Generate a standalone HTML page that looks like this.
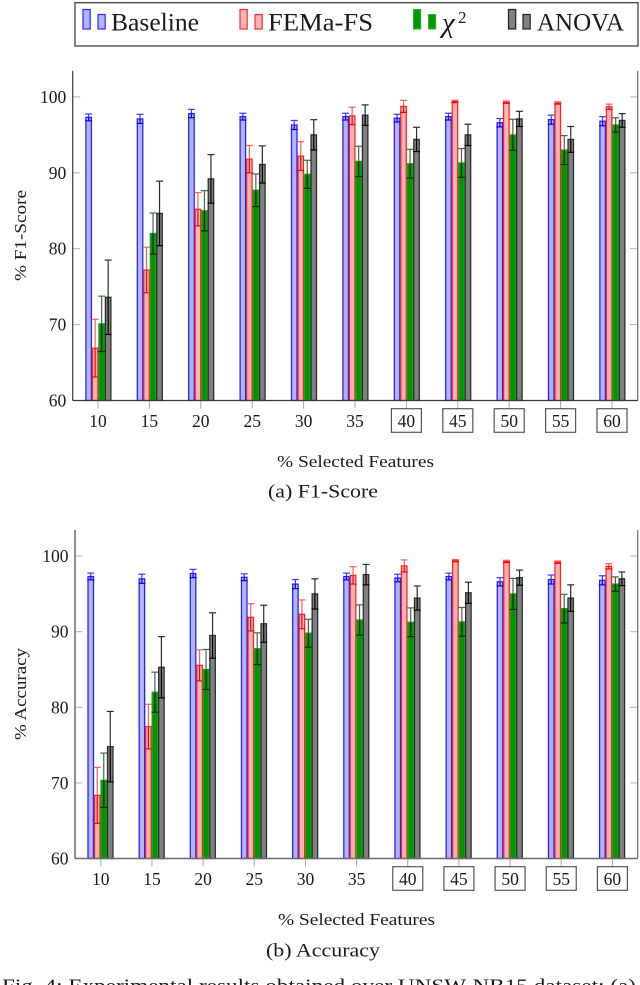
<!DOCTYPE html>
<html lang="en">
<head>
<meta charset="utf-8">
<title>F1-Score and Accuracy by selected features</title>
<style>
html,body{margin:0;padding:0;background:#fff;width:640px;height:985px;overflow:hidden}
svg{display:block;font-family:"Liberation Serif",serif;fill:#1a1a1a}
</style>
</head>
<body>
<svg id="figure" width="640" height="985" viewBox="0 0 640 985" xmlns="http://www.w3.org/2000/svg">
  <g>
    <rect x="75" y="2.7" width="563" height="43.3" fill="#fff" stroke="#444" stroke-width="1.3"/>
    <g>
      <rect x="83" y="9.5" width="7.2" height="19.5" fill="#b3b3ff" stroke="#2a2aff" stroke-width="1.2"/>
      <rect x="98" y="14.5" width="7.2" height="14.5" fill="#b3b3ff" stroke="#2a2aff" stroke-width="1.2"/>
      <text x="111" y="30.5" font-size="25.5" textLength="88" lengthAdjust="spacingAndGlyphs">Baseline</text>
    </g>
    <g>
      <rect x="240" y="9.5" width="7.2" height="19.5" fill="#ffb3b3" stroke="#ff2a2a" stroke-width="1.2"/>
      <rect x="255" y="14.5" width="7.2" height="14.5" fill="#ffb3b3" stroke="#ff2a2a" stroke-width="1.2"/>
      <text x="268" y="30.5" font-size="25.5" textLength="105" lengthAdjust="spacingAndGlyphs">FEMa-FS</text>
    </g>
    <g>
      <rect x="413.5" y="9.5" width="7.2" height="19.5" fill="#009900" stroke="#33b033" stroke-width="1"/>
      <rect x="428.5" y="14.5" width="7.2" height="14.5" fill="#009900" stroke="#33b033" stroke-width="1"/>
      <text x="442" y="32" font-size="29" font-style="italic">χ</text>
      <text x="458" y="23" font-size="17">2</text>
    </g>
    <g>
      <rect x="508.5" y="9.5" width="7.2" height="19.5" fill="#808080" stroke="#222" stroke-width="1.2"/>
      <rect x="523" y="14.5" width="7.2" height="14.5" fill="#808080" stroke="#222" stroke-width="1.2"/>
      <text x="537" y="30.5" font-size="25.5" textLength="87" lengthAdjust="spacingAndGlyphs">ANOVA</text>
    </g>
  </g>
  <g id="chart-f1"></g>
  <g id="chart-acc"></g>
  <text x="277" y="467" font-size="17" textLength="157" lengthAdjust="spacingAndGlyphs">% Selected Features</text>
  <text x="268" y="497.5" font-size="19" textLength="110" lengthAdjust="spacingAndGlyphs">(a) F1-Score</text>
  <text x="278" y="925" font-size="17" textLength="157" lengthAdjust="spacingAndGlyphs">% Selected Features</text>
  <text x="266" y="956.5" font-size="19" textLength="114" lengthAdjust="spacingAndGlyphs">(b) Accuracy</text>
  <text x="2" y="992" font-size="19" textLength="634" lengthAdjust="spacingAndGlyphs">Fig. 4: Experimental results obtained over UNSW-NB15 dataset: (a)</text>
</svg>
<script>
const categories = [10, 15, 20, 25, 30, 35, 40, 45, 50, 55, 60];
const boxedCategories = [40, 45, 50, 55, 60];
const yTicks = [60, 70, 80, 90, 100];

const f1Baseline = [97.3, 97.1, 97.8, 97.4, 96.3, 97.4, 97.2, 97.4, 96.6, 97.0, 96.8];
const f1BaselineErr = [0.45, 0.6, 0.55, 0.45, 0.6, 0.45, 0.5, 0.45, 0.55, 0.6, 0.6];
const f1Fema = [66.9, 77.2, 85.2, 91.8, 92.2, 97.5, 98.75, 99.4, 99.3, 99.2, 98.7];
const f1FemaErr = [3.8, 3.0, 2.2, 1.8, 1.9, 1.15, 0.8, 0.15, 0.15, 0.15, 0.35];
const f1Chi = [70.1, 82.0, 85.0, 87.7, 89.8, 91.5, 91.2, 91.3, 95.0, 93.0, 96.3];
const f1ChiErr = [3.65, 2.7, 2.65, 2.15, 1.85, 2.0, 1.9, 1.9, 2.05, 1.9, 0.95];
const f1Anova = [73.6, 84.65, 89.2, 91.1, 95.0, 97.6, 94.4, 95.0, 97.1, 94.4, 96.9];
const f1AnovaErr = [4.9, 4.25, 3.2, 2.45, 2.0, 1.35, 1.6, 1.4, 1.0, 1.7, 0.9];

const accBaseline = [97.3, 97.0, 97.7, 97.2, 96.3, 97.3, 97.1, 97.3, 96.6, 96.9, 96.8];
const accBaselineErr = [0.45, 0.6, 0.55, 0.45, 0.6, 0.45, 0.5, 0.45, 0.55, 0.6, 0.6];
const accFema = [68.35, 77.45, 85.55, 91.9, 92.3, 97.45, 98.7, 99.4, 99.3, 99.2, 98.65];
const accFemaErr = [3.7, 2.95, 2.05, 1.8, 1.9, 1.15, 0.8, 0.15, 0.15, 0.15, 0.35];
const accChi = [70.35, 82.0, 85.0, 87.75, 89.8, 91.55, 91.25, 91.3, 95.0, 93.05, 96.3];
const accChiErr = [3.6, 2.65, 2.65, 2.1, 1.85, 2.0, 1.9, 1.9, 2.05, 1.9, 0.95];
const accAnova = [74.8, 85.3, 89.5, 91.05, 95.0, 97.55, 94.45, 95.15, 97.15, 94.45, 97.0];
const accAnovaErr = [4.65, 4.05, 3.0, 2.45, 2.0, 1.35, 1.6, 1.4, 1.0, 1.75, 0.9];

const NS = 'http://www.w3.org/2000/svg';

function make(parent, tag, attrs, text) {
  const el = document.createElementNS(NS, tag);
  for (const k in attrs) el.setAttribute(k, attrs[k]);
  if (text !== undefined) el.textContent = text;
  parent.appendChild(el);
  return el;
}

function drawChart(root, cfg, series) {
  const xScale = i => cfg.x0 + i * cfg.step;
  const yScale = v => cfg.yBase - (v - 60) * cfg.yUnit;

  const ticksGroup = make(root, 'g', {});
  
  

  yTicks.forEach(t => {
    if (t > 60) {
      const l1 = make(ticksGroup, 'line', {x1: cfg.left, x2: cfg.left + 7.5, y1: yScale(t), y2: yScale(t), stroke: '#b0b0b0', 'stroke-width': 1});
      
      
      const l2 = make(ticksGroup, 'line', {x1: cfg.right - 7.5, x2: cfg.right, y1: yScale(t), y2: yScale(t), stroke: '#b0b0b0', 'stroke-width': 1});
      
      
    }
    const lab = make(ticksGroup, 'text', {x: cfg.left - 6.5, y: yScale(t) + 6, 'font-size': 17.5, 'text-anchor': 'end'}, String(t));
    
    
  });

  series.forEach((s, si) => {
    const g = make(root, 'g', {});
    
    
    const offset = (si - 1.5) * cfg.barStep + cfg.barShift;
    s.values.forEach((v, i) => {
      const cx = xScale(i) + offset;
      const top = yScale(v);
      const bar = make(g, 'rect', {x: cx - 2.75, y: top, width: 5.5, height: cfg.yBase - top, fill: s.fill, stroke: s.stroke, 'stroke-width': 1.25});
      
      
    });
    s.values.forEach((v, i) => {
      const cx = xScale(i) + offset;
      const e = s.errors[i];
      const eg = make(g, 'g', {fill: 'none', 'stroke-width': 1.2});
      
      
      make(eg, 'line', {x1: cx, x2: cx, y1: yScale(v + e), y2: yScale(v), stroke: s.errUp});
      make(eg, 'line', {x1: cx - 3.5, x2: cx + 3.5, y1: yScale(v + e), y2: yScale(v + e), stroke: s.errUp});
      make(eg, 'line', {x1: cx, x2: cx, y1: yScale(v), y2: yScale(v - e), stroke: s.errDown});
      make(eg, 'line', {x1: cx - 3.5, x2: cx + 3.5, y1: yScale(v - e), y2: yScale(v - e), stroke: s.errDown});
    });
  });

  categories.forEach((c, i) => {
    const x = xScale(i);
    const tick = make(root, 'line', {x1: x, x2: x, y1: cfg.yBase, y2: cfg.yBase + 8, stroke: '#a8a8a8', 'stroke-width': 1});
    
    
    if (boxedCategories.includes(c)) {
      const box = make(root, 'rect', {x: x - 15, y: cfg.yBase + 8.2, width: 30, height: 23.6, fill: '#fff', stroke: '#555', 'stroke-width': 1.2});
      
      
    }
    const lab = make(root, 'text', {x: x, y: cfg.yBase + 26.5, 'font-size': 17.5, 'text-anchor': 'middle'}, String(c));
    
    
  });

  const axisLeft = make(root, 'line', {x1: cfg.left, x2: cfg.left, y1: cfg.top, y2: cfg.yBase, stroke: cfg.axisColor, 'stroke-width': cfg.axisWidth});
  
  
  const axisRight = make(root, 'line', {x1: cfg.right, x2: cfg.right, y1: cfg.top, y2: cfg.yBase, stroke: '#777', 'stroke-width': 1.3});
  
  
  const axisBottom = make(root, 'line', {x1: cfg.left, x2: cfg.right, y1: cfg.yBase, y2: cfg.yBase, stroke: cfg.axisColor, 'stroke-width': cfg.axisWidth});
  
  

  const title = make(root, 'text', {transform: 'translate(26,' + cfg.yTitleY + ') rotate(-90)', 'font-size': 17, 'text-anchor': 'middle', textLength: cfg.yTitleLen, lengthAdjust: 'spacingAndGlyphs'}, cfg.yTitle);
  
  
}

function seriesFor(b, be, f, fe, c, ce, a, ae) {
  return [
    {name: 'baseline', values: b, errors: be, fill: '#b3b3ff', stroke: '#1f1fff', errUp: '#3a3aff', errDown: '#0000ff'},
    {name: 'fema-fs', values: f, errors: fe, fill: '#ffb3b3', stroke: '#ff2020', errUp: '#ff5a5a', errDown: '#ff0000'},
    {name: 'chi-squared', values: c, errors: ce, fill: '#009600', stroke: '#1fa01f', errUp: '#3f6a3f', errDown: '#0c2c0c'},
    {name: 'anova', values: a, errors: ae, fill: '#808080', stroke: '#2a2a2a', errUp: '#2a2a2a', errDown: '#000000'}
  ];
}

drawChart(document.getElementById('chart-f1'),
  {x0: 98, step: 51.4, barStep: 6.5, barShift: 0.4, yBase: 400.5, yUnit: 7.59, left: 72.7, right: 637.7, top: 70.7,
   axisColor: '#3a3a3a', axisWidth: 1.2, yTitle: '% F1-Score', yTitleY: 235.5, yTitleLen: 91},
  seriesFor(f1Baseline, f1BaselineErr, f1Fema, f1FemaErr, f1Chi, f1ChiErr, f1Anova, f1AnovaErr));

drawChart(document.getElementById('chart-acc'),
  {x0: 100.8, step: 51.16, barStep: 6.5, barShift: -0.3, yBase: 858.5, yUnit: 7.56, left: 75, right: 637.7, top: 530,
   axisColor: '#6a6a6a', axisWidth: 1.5, yTitle: '% Accuracy', yTitleY: 694, yTitleLen: 92},
  seriesFor(accBaseline, accBaselineErr, accFema, accFemaErr, accChi, accChiErr, accAnova, accAnovaErr));
</script>
</body>
</html>
